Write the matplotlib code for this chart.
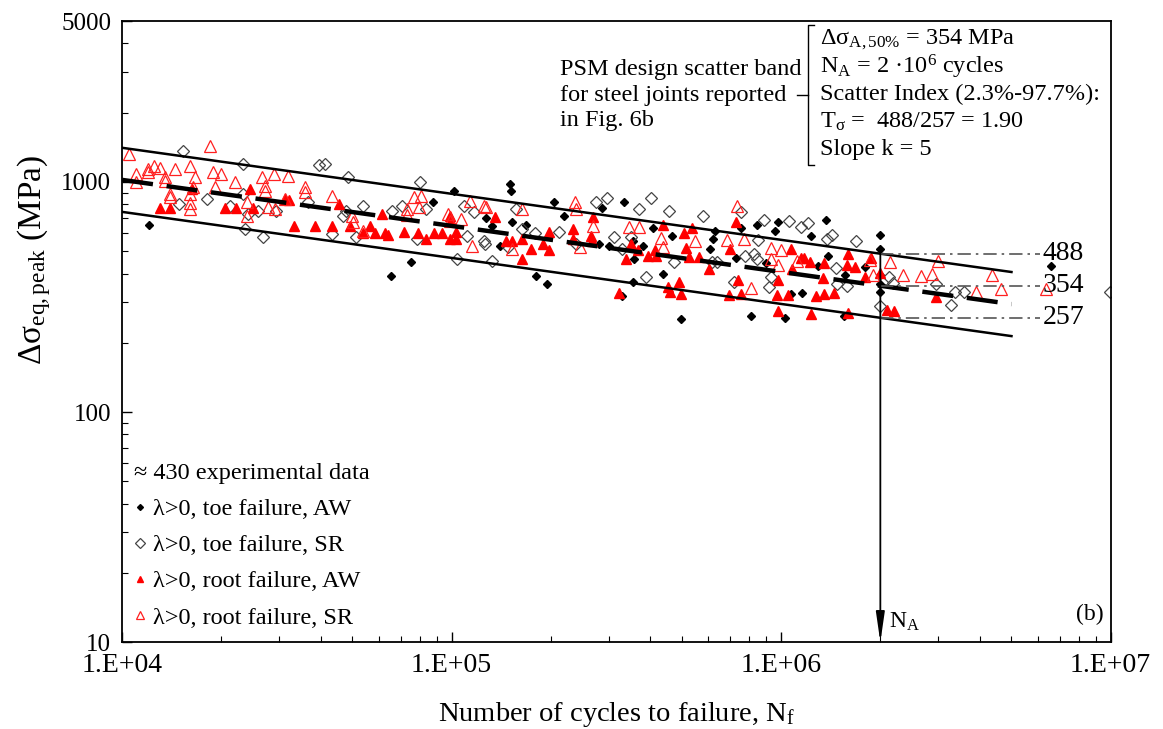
import matplotlib
matplotlib.use("Agg")
from matplotlib import pyplot as plt
from matplotlib.ticker import FixedLocator, LogLocator, NullFormatter
import numpy as np

plt.rcParams['font.family'] = ['Liberation Serif', 'DejaVu Serif']
plt.rcParams['mathtext.fontset'] = 'custom'
plt.rcParams['mathtext.rm'] = 'Liberation Serif'
plt.rcParams['mathtext.it'] = 'Liberation Serif:italic'
plt.rcParams['mathtext.bf'] = 'Liberation Serif:bold'

# scatter band parameters (PSM design band)
N_A = 2e6
s_mean, s_up, s_low = 354, 488, 257
k = 5
n_band = np.array([1e4, 5e6])

# lambda>0, toe failure, AW  (cycles, MPa)
toe_aw_n = [1.21e4, 7.54e4, 6.53e4, 1.02e5, 8.77e4, 1.50e5, 1.51e5, 1.27e5, 1.33e5, 1.40e5,
            1.52e5, 1.68e5, 2.05e5, 2.2e5, 2.85e5, 3.33e5, 4.07e5, 4.68e5, 1.8e5, 1.95e5,
            2.8e5, 3.0e5, 3.58e5, 3.8e5, 3.54e5, 3.54e5, 4.39e5, 3.3e5, 4.97e5, 6.3e5,
            6.1e5, 6.2e5, 7.57e5, 8.42e5, 9.8e5, 9.57e5, 1.37e6, 1.23e6, 7.3e5, 9.0e5,
            1.07e6, 1.16e6, 8.1e5, 1.03e6, 1.55e6, 1.29e6, 1.39e6, 1.56e6, 1.8e6, 2.0e6,
            2.0e6, 2.0e6, 2.0e6, 2.0e6, 6.6e6]
toe_aw_s = [650, 448, 391, 917, 821, 980, 917, 695, 646, 528,
            670, 652, 821, 714, 768, 816, 630, 580, 389, 360,
            538, 528, 463, 528, 366, 556, 398, 320, 254, 614,
            512, 565, 630, 650, 672, 614, 686, 580, 466, 445,
            326, 329, 261, 256, 261, 431, 476, 394, 426, 588,
            509, 394, 334, 360, 433]

# lambda>0, toe failure, SR
toe_sr_n = [1.53e4, 2.33e4, 1.49e4, 1.81e4, 2.12e4, 2.33e4, 2.41e4, 2.59e4, 2.36e4, 2.68e4,
            2.94e4, 3.67e4, 3.96e4, 4.12e4, 4.84e4, 8.0e4, 5.39e4, 4.79e4, 4.68e4, 4.32e4,
            5.14e4, 6.58e4, 7.09e4, 8.37e4, 7.83e4, 1.09e5, 1.17e5, 1.25e5, 1.26e5, 1.04e5,
            1.33e5, 1.11e5, 1.57e5, 1.48e5, 2.75e5, 2.96e5, 4.03e5, 3.7e5, 4.58e5, 5.78e5,
            1.79e5, 2.12e5, 3.12e5, 3.3e5, 3.5e5, 3.88e5, 4.72e5, 6.4e5, 2.39e5, 1.64e5,
            7.57e5, 8.9e5, 1.06e6, 1.15e6, 1.21e6, 1.38e6, 1.43e6, 1.69e6, 8.5e5, 6.18e5,
            7.76e5, 8.26e5, 8.43e5, 9.3e5, 9.2e5, 7.2e5, 1.47e6, 1.48e6, 1.58e6, 2.0e6,
            2.12e6, 2.18e6, 2.96e6, 3.38e6, 3.6e6, 3.28e6, 9.94e6]
toe_sr_s = [1368, 1197, 803, 843, 789, 887, 726, 750, 625, 575,
            750, 816, 1185, 1197, 1048, 1000, 784, 750, 715, 594,
            575, 750, 789, 763, 565, 789, 738, 556, 538, 463,
            455, 584, 763, 520, 821, 849, 849, 763, 750, 714,
            600, 608, 575, 512, 575, 385, 448, 448, 538, 625,
            738, 686, 679, 635, 663, 565, 588, 556, 561, 448,
            479, 486, 463, 385, 348, 368, 423, 360, 352, 290,
            385, 364, 360, 332, 332, 292, 332]

# lambda>0, root failure, AW
root_aw_n = [1.30e4, 1.40e4, 1.63e4, 2.05e4, 2.21e4, 2.44e4, 2.49e4, 3.12e4, 3.21e4, 3.32e4,
             3.84e4, 4.55e4, 4.32e4, 4.91e4, 5.66e4, 5.38e4, 5.85e4, 6.27e4, 6.41e4, 6.13e4,
             7.19e4, 7.91e4, 8.37e4, 8.87e4, 9.37e4, 9.86e4, 9.97e4, 9.86e4, 1.03e5, 1.03e5,
             1.35e5, 1.46e5, 1.53e5, 2.68e5, 2.33e5, 1.98e5, 1.64e5, 1.74e5, 1.64e5, 1.89e5,
             1.97e5, 2.33e5, 2.65e5, 2.67e5, 3.5e5, 3.67e5, 3.94e5, 4.13e5, 4.18e5, 3.38e5,
             4.37e5, 5.07e5, 5.38e5, 5.15e5, 5.26e5, 5.63e5, 6.05e5, 3.22e5, 4.53e5, 4.59e5,
             4.9e5, 4.97e5, 7.3e5, 7.0e5, 7.38e5, 6.95e5, 7.57e5, 9.8e5, 9.7e5, 1.05e6,
             1.07e6, 1.08e6, 1.15e6, 1.17e6, 1.22e6, 1.35e6, 1.6e6, 1.58e6, 1.67e6, 1.34e6,
             1.28e6, 1.35e6, 1.45e6, 9.8e5, 1.23e6, 1.6e6, 1.88e6, 1.8e6, 2.0e6, 2.1e6,
             2.2e6, 2.96e6]
root_aw_s = [771, 771, 932, 771, 771, 932, 771, 843, 835, 642,
             642, 803, 646, 646, 646, 600, 600, 600, 588, 726,
             608, 600, 565, 600, 600, 709, 679, 565, 565, 608,
             702, 556, 556, 702, 625, 604, 565, 511, 463, 538,
             505, 565, 584, 556, 538, 505, 478, 505, 478, 463,
             650, 600, 630, 515, 470, 470, 419, 330, 348, 334,
             368, 326, 672, 509, 376, 322, 326, 376, 322, 322,
             509, 419, 466, 466, 448, 445, 486, 436, 426, 381,
             318, 326, 329, 276, 267, 270, 466, 385, 404, 278,
             276, 316]

# lambda>0, root failure, SR
root_sr_n = [1.05e4, 1.85e4, 1.10e4, 1.10e4, 1.20e4, 1.20e4, 1.25e4, 1.30e4, 1.35e4, 1.35e4,
             1.45e4, 1.61e4, 1.66e4, 1.40e4, 1.40e4, 1.61e4, 1.61e4, 1.61e4, 1.64e4, 1.89e4,
             2.00e4, 1.91e4, 2.20e4, 2.39e4, 2.40e4, 2.65e4, 2.71e4, 2.71e4, 2.89e4, 3.19e4,
             2.77e4, 2.91e4, 3.12e4, 3.58e4, 3.58e4, 4.32e4, 4.97e4, 5.02e4, 5.38e4, 7.3e4,
             7.33e4, 7.7e4, 8.1e4, 7.95e4, 9.73e4, 9.86e4, 1.07e5, 1.14e5, 1.15e5, 1.27e5,
             1.25e5, 1.52e5, 1.63e5, 2.36e5, 2.39e5, 2.45e5, 2.68e5, 3.45e5, 3.71e5, 4.32e5,
             4.37e5, 5.49e5, 7.37e5, 6.85e5, 7.7e5, 8.1e5, 9.3e5, 9.97e5, 9.3e5, 9.8e5,
             1.12e6, 1.86e6, 1.9e6, 2.14e6, 2.35e6, 2.65e6, 2.86e6, 3.0e6, 4.35e6, 4.65e6,
             6.37e6, 3.9e6]
root_sr_s = [1323, 1438, 1083, 1000, 1139, 1102, 1177, 1147, 1048, 1013,
             1139, 1177, 1048, 887, 858, 887, 810, 763, 948, 1102,
             1083, 948, 1000, 816, 709, 1048, 964, 917, 1083, 1065,
             776, 763, 843, 948, 902, 872, 709, 669, 614, 763,
             720, 858, 872, 776, 726, 679, 690, 829, 528, 776,
             789, 512, 763, 816, 763, 520, 646, 635, 635, 569,
             520, 556, 789, 561, 565, 345, 515, 505, 463, 436,
             455, 459, 394, 450, 394, 392, 399, 455, 394, 343,
             343, 333]

fig = plt.figure(figsize=(11.63, 7.29), dpi=100)
ax = fig.add_axes([0.105, 0.119, 0.850, 0.852])
ax.set_xscale('log')
ax.set_yscale('log')

# data
ax.plot(toe_aw_n, toe_aw_s, 'D', color='black', ms=4, ls='none', label='λ>0, toe failure, AW')
ax.plot(toe_sr_n, toe_sr_s, 'D', mfc='none', mec='#444444', mew=0.9, ms=6.5, ls='none',
        label='λ>0, toe failure, SR')
ax.plot(root_aw_n, root_aw_s, '^', color='red', ms=6.5, ls='none', label='λ>0, root failure, AW')
ax.plot(root_sr_n, root_sr_s, '^', mfc='none', mec='#ff2020', mew=0.9, ms=8.5, ls='none',
        label='λ>0, root failure, SR')

# scatter band
ax.plot(n_band, s_up * (N_A / n_band) ** (1 / k), color='black', lw=1.8)
ax.plot(n_band, s_low * (N_A / n_band) ** (1 / k), color='black', lw=1.8)
ax.plot(n_band, s_mean * (N_A / n_band) ** (1 / k), color='black', lw=3.2, ls=(0, (7, 3.1)))

# reference levels at N_A
for s in [s_up, s_mean, s_low]:
    ax.plot([N_A, 6.1e6], [s, s], color='#555555', lw=1.2, ls=(0, (8, 3, 1.5, 3)))
    ax.text(6.2e6, s, str(s), fontsize=20, va='center', ha='left')

ax.annotate('', xy=(N_A, 10), xytext=(N_A, s_up),
            arrowprops=dict(arrowstyle='-|>,head_length=0.9,head_width=0.13', color='black',
                            lw=1.3, mutation_scale=20, shrinkA=0, shrinkB=0))
ax.text(2.12e6, 12.3, 'N$_\\mathrm{A}$', fontsize=17, va='center', ha='left')
ax.text(0.993, 0.045, '(b)', transform=ax.transAxes, fontsize=17, ha='right', va='center')

# info box
box_lines = ['Δσ$_\\mathrm{A,50\\%}$ = 354 MPa',
             'N$_\\mathrm{A}$ = 2 ·10$^\\mathrm{6}$ cycles',
             'Scatter Index (2.3%-97.7%):',
             'T$_\\mathrm{σ}$ =  488/257 = 1.90',
             'Slope k = 5']
for i, t in enumerate(box_lines):
    ax.text(0.7058, 0.970 - i * 0.0443, t, transform=ax.transAxes, fontsize=17.5,
            ha='left', va='center')
ax.plot([0.6995, 0.6936, 0.6936, 0.6995], [0.994, 0.994, 0.768, 0.768],
        transform=ax.transAxes, color='black', lw=1.0, clip_on=False)
ax.plot([0.6825, 0.6936], [0.8808, 0.8808], transform=ax.transAxes, color='black', lw=1.0)
ax.text(0.443, 0.8808, 'PSM design scatter band\nfor steel joints reported\nin Fig. 6b',
        transform=ax.transAxes, fontsize=17.5, ha='left', va='center', linespacing=1.3)

# legend
leg = ax.legend(loc='lower left', bbox_to_anchor=(0.012, 0.022), frameon=False, fontsize=17.5,
                title='≈ 430 experimental data', title_fontsize=17.5, handlelength=0.5,
                handletextpad=0.3, labelspacing=0.58, markerscale=0.75, alignment='left',
                borderpad=0, borderaxespad=0)

ax.set_xlim(1e4, 1e7)
ax.set_ylim(10, 5000)
ax.xaxis.set_major_locator(FixedLocator([1e4, 1e5, 1e6, 1e7]))
ax.set_xticklabels(['1.E+04', '1.E+05', '1.E+06', '1.E+07'])
ax.xaxis.set_minor_locator(LogLocator(base=10, subs=np.arange(2, 10)))
ax.xaxis.set_minor_formatter(NullFormatter())
ax.yaxis.set_major_locator(FixedLocator([10, 100, 1000, 5000]))
ax.set_yticklabels(['10', '100', '1000', '5000'])
ax.yaxis.set_minor_locator(LogLocator(base=10, subs=np.arange(2, 10)))
ax.yaxis.set_minor_formatter(NullFormatter())
ax.tick_params(which='both', direction='in')
ax.tick_params(axis='x', labelsize=20)
ax.tick_params(axis='y', labelsize=18)
ax.tick_params(which='major', length=7, width=1.0, pad=8)
ax.tick_params(which='minor', length=4, width=0.8)
for sp in ax.spines.values():
    sp.set_linewidth(1.3)

ax.set_xlabel('Number of cycles to failure, N$_\\mathrm{f}$', fontsize=20.5)
ax.xaxis.set_label_coords(0.5, -0.093)
ax.set_ylabel('Δσ$_\\mathrm{eq,peak}$ (MPa)', fontsize=24)
ax.yaxis.set_label_coords(-0.07, 0.615)

fig.savefig('out.png', dpi=100)
